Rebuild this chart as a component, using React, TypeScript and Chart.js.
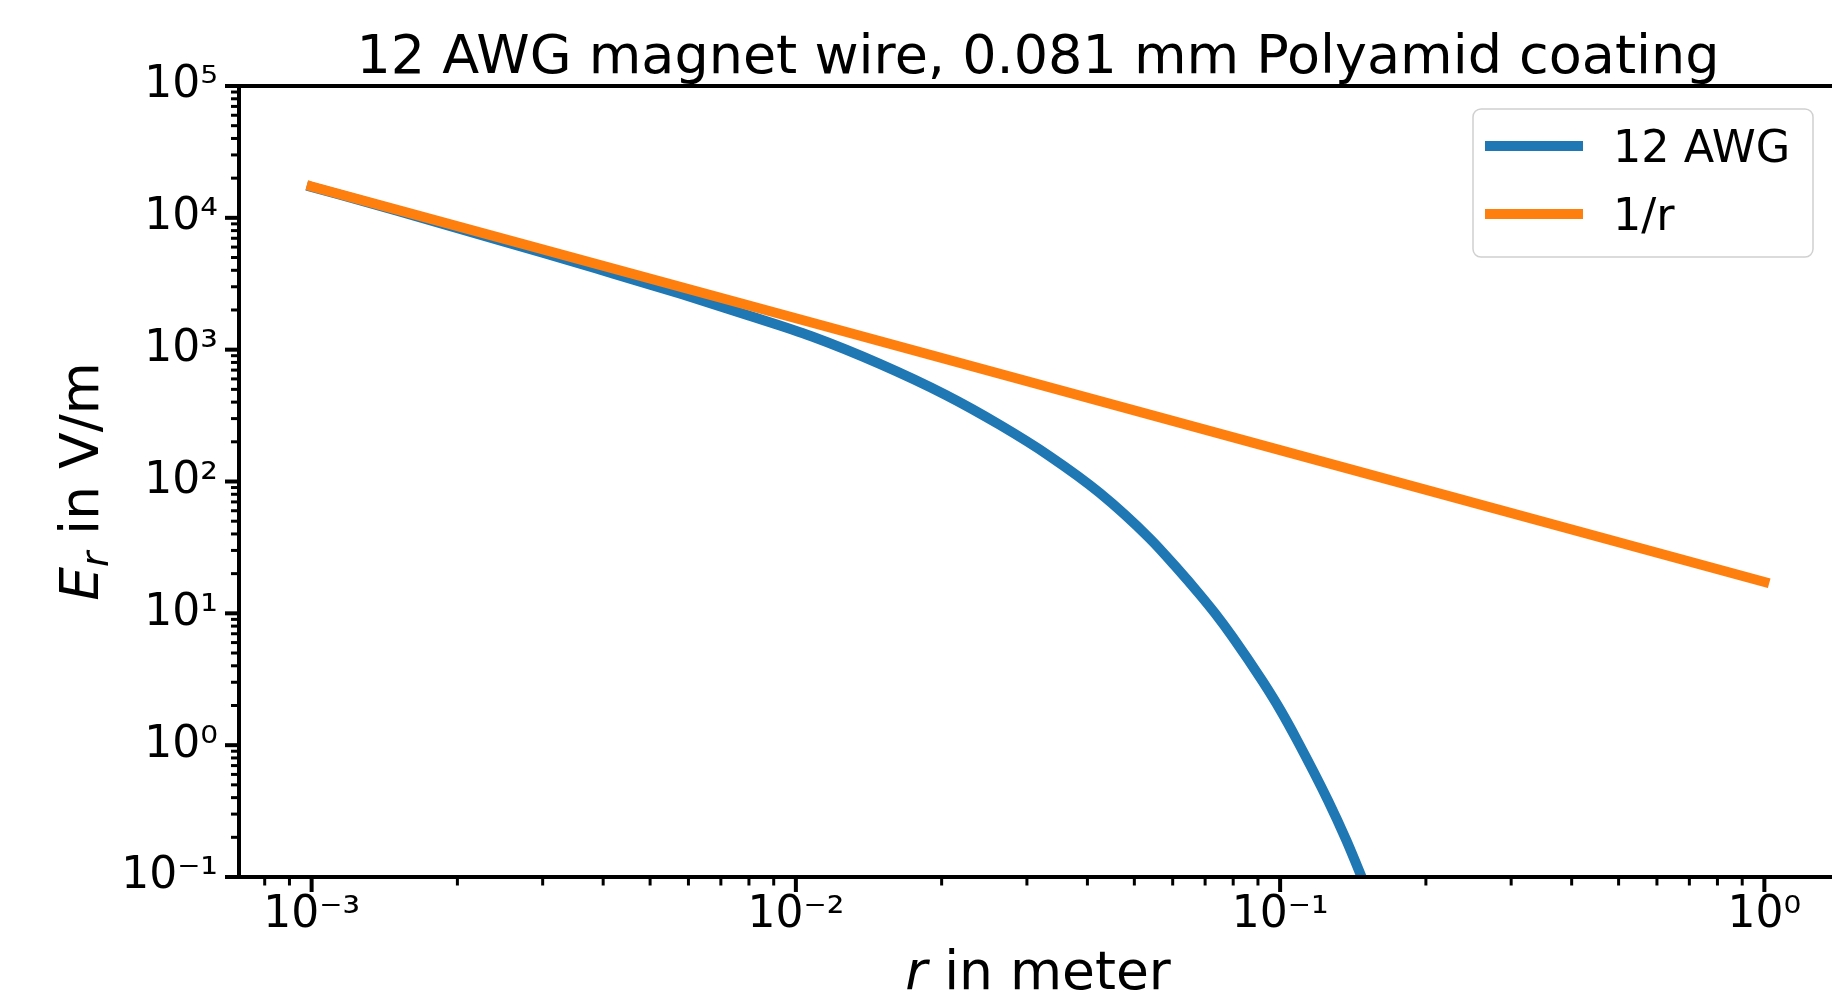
import React, { useEffect, useRef } from "react";
import { Chart, registerables } from "chart.js";

Chart.register(...registerables);

// ---------- data ----------
const titleText = "12 AWG magnet wire, 0.081 mm Polyamid coating";
const seriesLabels = ["12 AWG", "1/r"];

// 12 AWG field (blue)
const rAwg = [0.001, 0.0015, 0.0022, 0.003, 0.0042, 0.0058, 0.0079, 0.0108, 0.0149, 0.0204, 0.0264, 0.0334, 0.0424, 0.0538, 0.061, 0.0684, 0.0733, 0.0798, 0.092, 0.1, 0.1084, 0.1256, 0.137, 0.147, 0.16];
const eAwg = [17150, 11350, 7550, 5450, 3770, 2640, 1840, 1258, 780, 453, 268, 156, 82, 37, 22.4, 13.75, 10.05, 6.6, 3.05, 1.86, 1.09, 0.38, 0.19, 0.102, 0.047];

// 1/r reference (orange)
const rInv = [0.001, 0.01, 0.1, 1];
const eInv = [17300, 1730, 173, 17.3];

// axes
const xMin = 7.08e-4;
const xMax = 1.4125;
const yMin = 0.1;
const yMax = 1e5;
const xMajorTicks = [1e-3, 1e-2, 1e-1, 1];
const xTickLabels = ["10\u207B\u00B3", "10\u207B\u00B2", "10\u207B\u00B9", "10\u2070"];
const yMajorTicks = [1e-1, 1, 1e1, 1e2, 1e3, 1e4, 1e5];
const yTickLabels = ["10\u207B\u00B9", "10\u2070", "10\u00B9", "10\u00B2", "10\u00B3", "10\u2074", "10\u2075"];
const minorMultipliers = [2, 3, 4, 5, 6, 7, 8, 9];

const xLabelParts = [
  { text: "r", italic: true },
  { text: " in meter", italic: false },
];
const yLabelMain = "E";
const yLabelSub = "r";
const yLabelRest = " in V/m";

// ---------- styles ----------
const FONT = '"DejaVu Sans", "Liberation Sans", sans-serif';
const BLUE = "#1f77b4";
const ORANGE = "#ff7f0e";
const TITLE_SIZE = 54;
const LABEL_SIZE = 53.5;
const TICK_SIZE = 44;
const LEGEND_SIZE = 44.5;
const LINE_W = 10;

function buildTicks(majors: number[], min: number, max: number) {
  const out: { value: number; major: boolean }[] = [];
  const decades = majors.slice();
  decades.unshift(majors[0] / 10);
  for (const d of decades) {
    if (d >= min && d <= max && majors.includes(d)) out.push({ value: d, major: true });
    for (const m of minorMultipliers) {
      const v = d * m;
      if (v >= min && v <= max) out.push({ value: v, major: false });
    }
  }
  out.sort((a, b) => a.value - b.value);
  return out;
}

function labelFor(value: number, majors: number[], labels: string[]) {
  for (let i = 0; i < majors.length; i++) {
    if (Math.abs(value / majors[i] - 1) < 1e-6) return labels[i];
  }
  return "";
}

const decorPlugin = {
  id: "decor",
  afterDraw(chart: any) {
    const { ctx, chartArea: a, scales } = chart;
    const xs = scales.x;
    const ys = scales.y;
    ctx.save();
    ctx.strokeStyle = "#000";
    ctx.lineCap = "butt";
    // tick marks
    for (const t of xs.ticks) {
      const p = xs.getPixelForValue(t.value);
      ctx.lineWidth = t.major ? 4 : 3;
      const len = t.major ? 15 : 8.5;
      ctx.beginPath();
      ctx.moveTo(p, a.bottom);
      ctx.lineTo(p, a.bottom + len);
      ctx.stroke();
    }
    for (const t of ys.ticks) {
      const p = ys.getPixelForValue(t.value);
      ctx.lineWidth = t.major ? 4 : 3;
      const len = t.major ? 14 : 8;
      ctx.beginPath();
      ctx.moveTo(a.left, p);
      ctx.lineTo(a.left - len, p);
      ctx.stroke();
    }
    // spines
    ctx.lineWidth = 4;
    ctx.lineCap = "square";
    ctx.strokeRect(a.left, a.top, a.right - a.left, a.bottom - a.top);

    // x axis label
    ctx.fillStyle = "#000";
    ctx.textBaseline = "alphabetic";
    ctx.textAlign = "left";
    const widths = xLabelParts.map((p) => {
      ctx.font = `${p.italic ? "italic " : ""}${LABEL_SIZE}px ${FONT}`;
      return ctx.measureText(p.text).width;
    });
    const total = widths.reduce((s, w) => s + w, 0);
    let x0 = (a.left + a.right) / 2 - total / 2;
    xLabelParts.forEach((p, i) => {
      ctx.font = `${p.italic ? "italic " : ""}${LABEL_SIZE}px ${FONT}`;
      ctx.fillText(p.text, x0, 989);
      x0 += widths[i];
    });

    // y axis label (rotated)
    ctx.save();
    ctx.translate(98, (a.top + a.bottom) / 2);
    ctx.rotate(-Math.PI / 2);
    const subSize = LABEL_SIZE * 0.7;
    ctx.font = `italic ${LABEL_SIZE}px ${FONT}`;
    const wE = ctx.measureText(yLabelMain).width;
    ctx.font = `italic ${subSize}px ${FONT}`;
    const wSub = ctx.measureText(yLabelSub).width;
    ctx.font = `${LABEL_SIZE}px ${FONT}`;
    const wRest = ctx.measureText(yLabelRest).width;
    let yx = -(wE + wSub + wRest) / 2;
    ctx.font = `italic ${LABEL_SIZE}px ${FONT}`;
    ctx.fillText(yLabelMain, yx, 0);
    yx += wE;
    ctx.font = `italic ${subSize}px ${FONT}`;
    ctx.fillText(yLabelSub, yx, 10);
    yx += wSub;
    ctx.font = `${LABEL_SIZE}px ${FONT}`;
    ctx.fillText(yLabelRest, yx, 0);
    ctx.restore();

    // legend
    const bx = a.right - 364;
    const by = a.top + 23;
    const bw = 340;
    const bh = 148;
    ctx.beginPath();
    ctx.roundRect(bx, by, bw, bh, 8);
    ctx.fillStyle = "rgba(255,255,255,0.8)";
    ctx.fill();
    ctx.lineWidth = 1.5;
    ctx.strokeStyle = "#d0d0d0";
    ctx.stroke();
    chart.data.datasets.forEach((ds: any, i: number) => {
      const cy = by + 37 + i * 68;
      ctx.beginPath();
      ctx.lineCap = "square";
      ctx.lineWidth = LINE_W;
      ctx.strokeStyle = ds.borderColor;
      ctx.moveTo(bx + 17, cy);
      ctx.lineTo(bx + 105, cy);
      ctx.stroke();
      ctx.fillStyle = "#000";
      ctx.font = `${LEGEND_SIZE}px ${FONT}`;
      ctx.textBaseline = "alphabetic";
      ctx.textAlign = "left";
      ctx.fillText(ds.label, bx + 140, cy + 16);
    });
    ctx.restore();
  },
};

export default function App() {
  const ref = useRef<HTMLCanvasElement>(null);
  useEffect(() => {
    if (!ref.current) return;
    const chart = new Chart(ref.current, {
      type: "line",
      data: {
        datasets: [
          {
            label: seriesLabels[0],
            data: rAwg.map((r, i) => ({ x: r, y: eAwg[i] })),
            borderColor: BLUE,
            backgroundColor: BLUE,
            borderWidth: LINE_W,
            borderCapStyle: "square",
            pointRadius: 0,
            cubicInterpolationMode: "monotone",
            clip: 0,
            order: 2,
          },
          {
            label: seriesLabels[1],
            data: rInv.map((r, i) => ({ x: r, y: eInv[i] })),
            borderColor: ORANGE,
            backgroundColor: ORANGE,
            borderWidth: LINE_W,
            borderCapStyle: "square",
            pointRadius: 0,
            clip: 0,
            order: 1,
          },
        ],
      } as any,
      options: {
        animation: false,
        responsive: false,
        devicePixelRatio: 1,
        layout: { autoPadding: false, padding: { left: 0, top: 0, right: 3, bottom: 0 } },
        plugins: {
          legend: { display: false },
          tooltip: { enabled: false },
          title: {
            display: true,
            text: titleText,
            fullSize: false,
            color: "#000",
            font: { family: FONT, size: TITLE_SIZE, weight: "normal", lineHeight: 1 },
            padding: { top: 32, bottom: 0 },
          },
        },
        scales: {
          x: {
            type: "logarithmic",
            min: xMin,
            max: xMax,
            afterBuildTicks: (scale: any) => {
              scale.ticks = buildTicks(xMajorTicks, xMin, xMax);
            },
            afterFit: (scale: any) => {
              scale.height = 123;
            },
            grid: {
              display: true,
              drawOnChartArea: false,
              drawTicks: true,
              tickLength: 14,
              color: "transparent",
              tickColor: "transparent",
            },
            border: { display: false },
            ticks: {
              autoSkip: false,
              maxRotation: 0,
              minRotation: 0,
              padding: 3,
              color: "#000",
              font: { family: FONT, size: TICK_SIZE, lineHeight: 1 },
              callback: (v: any) => labelFor(Number(v), xMajorTicks, xTickLabels),
            },
          },
          y: {
            type: "logarithmic",
            min: yMin,
            max: yMax,
            afterBuildTicks: (scale: any) => {
              scale.ticks = buildTicks(yMajorTicks, yMin, yMax);
            },
            afterFit: (scale: any) => {
              scale.width = 239;
            },
            grid: {
              display: true,
              drawOnChartArea: false,
              drawTicks: true,
              tickLength: 14,
              color: "transparent",
              tickColor: "transparent",
            },
            border: { display: false },
            ticks: {
              autoSkip: false,
              padding: 7,
              color: "#000",
              font: { family: FONT, size: TICK_SIZE, lineHeight: 1 },
              callback: (v: any) => labelFor(Number(v), yMajorTicks, yTickLabels),
            },
          },
        },
      } as any,
      plugins: [decorPlugin],
    });
    return () => chart.destroy();
  }, []);

  return (
    <div
      style={{
        position: "fixed",
        left: 0,
        top: 0,
        width: 1832,
        height: 1000,
        overflow: "hidden",
        background: "#fff",
      }}
    >
      <canvas ref={ref} width={1840} height={1000} style={{ display: "block", width: 1840, height: 1000 }} />
    </div>
  );
}
